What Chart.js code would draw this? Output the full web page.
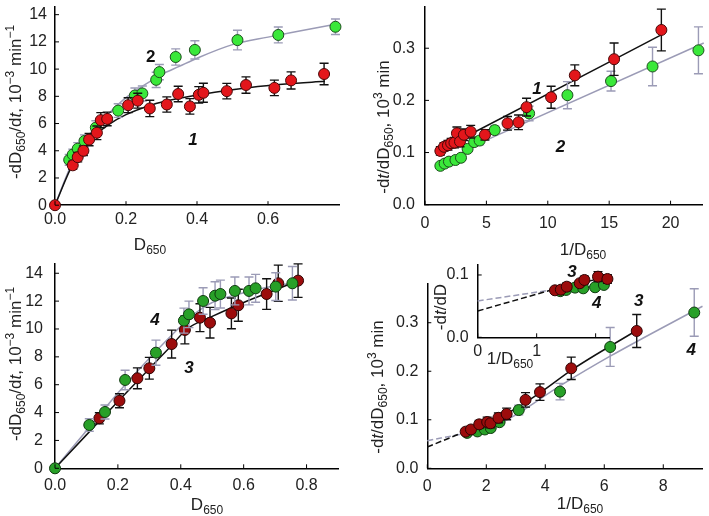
<!DOCTYPE html>
<html>
<head>
<meta charset="utf-8">
<script src="https://cdn.jsdelivr.net/npm/chart.js@4/dist/chart.umd.min.js"></script>
<style>
  body { margin: 0; background: #fff; }
  #wrap { position: relative; width: 709px; height: 516px; font-family: "Liberation Sans", Arial, sans-serif; color: #222; }
  canvas { position: absolute; left: 0; top: 0; }
  .t { position: absolute; font-size: 17px; line-height: 1; white-space: nowrap; transform: translate(-50%, -50%); }
  .r { transform: translate(-50%, -50%) rotate(-90deg); }
  .t sub { font-size: 12px; vertical-align: -4px; }
  .t sup { font-size: 12px; vertical-align: 7px; }
</style>
</head>
<body>
<div id="wrap">
  <canvas id="c1" width="709" height="516"></canvas>
  <canvas id="c2" width="709" height="516"></canvas>
  <canvas id="c3" width="709" height="516"></canvas>
  <canvas id="c4" width="709" height="516"></canvas>
  <canvas id="c5" width="709" height="516"></canvas>

  <div class="t r" style="left:15px;top:102px">-dD<sub>650</sub>/d<i>t</i>, 10<sup>−3</sup> min<sup>−1</sup></div>
  <div class="t" style="left:150px;top:246px">D<sub>650</sub></div>
  <div class="t r" style="left:383px;top:127px">-d<i>t</i>/dD<sub>650</sub>, 10<sup>3</sup> min</div>
  <div class="t" style="left:583px;top:251px">1/D<sub>650</sub></div>
  <div class="t r" style="left:15px;top:364px">-dD<sub>650</sub>/d<i>t</i>, 10<sup>−3</sup> min<sup>−1</sup></div>
  <div class="t" style="left:207px;top:506px">D<sub>650</sub></div>
  <div class="t r" style="left:377px;top:387px">-d<i>t</i>/dD<sub>650</sub>, 10<sup>3</sup> min</div>
  <div class="t" style="left:580px;top:505px">1/D<sub>650</sub></div>
  <div class="t r" style="left:440px;top:307px">-d<i>t</i>/dD</div>
  <div class="t" style="left:510px;top:360px">1/D<sub>650</sub></div>
</div>
<script>
// ---- panel 1: rate vs D650 ----
const p1RedX = [0, 0.050, 0.064, 0.080, 0.096, 0.118, 0.129, 0.147, 0.206, 0.233, 0.267, 0.315, 0.347, 0.380, 0.405, 0.418, 0.484, 0.538, 0.618, 0.665, 0.758];
const p1RedY = [0, 2.93, 3.53, 4.0, 4.82, 5.32, 6.25, 6.34, 7.35, 7.68, 7.11, 7.4, 8.17, 7.26, 8.11, 8.26, 8.38, 8.83, 8.62, 9.17, 9.64];
const p1RedErr = [0, 0.3, 0.35, 0.35, 0.45, 0.5, 0.55, 0.5, 0.55, 0.55, 0.6, 0.56, 0.57, 0.57, 0.6, 0.7, 0.57, 0.6, 0.57, 0.63, 0.79];
const p1GreenX = [0.040, 0.050, 0.064, 0.083, 0.115, 0.178, 0.225, 0.246, 0.285, 0.294, 0.340, 0.394, 0.514, 0.629, 0.790];
const p1GreenY = [3.33, 3.72, 4.15, 4.72, 5.70, 6.95, 8.06, 8.21, 9.21, 9.78, 10.89, 11.41, 12.13, 12.51, 13.11];
const p1GreenErr = [0.4, 0.4, 0.45, 0.45, 0.5, 0.5, 0.55, 0.55, 0.56, 0.56, 0.6, 0.67, 0.72, 0.58, 0.57];
const p1FitRedX = [0, 0.05, 0.1, 0.15, 0.2, 0.27, 0.35, 0.45, 0.55, 0.65, 0.76];
const p1FitRedY = [0, 3.0, 4.8, 5.9, 6.65, 7.35, 7.85, 8.3, 8.65, 8.9, 9.1];
const p1FitGreenX = [0, 0.05, 0.1, 0.15, 0.2, 0.25, 0.3, 0.35, 0.4, 0.5, 0.6, 0.7, 0.79];
const p1FitGreenY = [0, 3.2, 5.3, 6.7, 7.9, 8.8, 9.6, 10.2, 10.8, 11.8, 12.35, 12.85, 13.3];
const p1TicksX = [0, 0.2, 0.4, 0.6], p1LabelsX = ['0.0', '0.2', '0.4', '0.6'];
const p1TicksY = [0, 2, 4, 6, 8, 10, 12, 14], p1LabelsY = ['0', '2', '4', '6', '8', '10', '12', '14'];

// ---- panel 2: double reciprocal ----
const p2RedX = [1.25, 1.55, 1.87, 2.13, 2.4, 2.6, 2.85, 3.17, 3.72, 4.88, 6.72, 7.62, 8.27, 10.27, 12.2, 15.4, 19.25];
const p2RedY = [0.103, 0.111, 0.114, 0.118, 0.119, 0.137, 0.121, 0.134, 0.140, 0.134, 0.156, 0.158, 0.187, 0.206, 0.248, 0.279, 0.335];
const p2RedErr = [0.008, 0.008, 0.009, 0.009, 0.01, 0.012, 0.01, 0.011, 0.012, 0.01, 0.013, 0.014, 0.017, 0.021, 0.02, 0.031, 0.04];
const p2GreenX = [1.25, 1.6, 1.95, 2.48, 2.93, 3.47, 4.0, 4.45, 5.68, 8.48, 11.6, 15.15, 18.53, 22.27];
const p2GreenY = [0.0745, 0.0788, 0.0826, 0.0857, 0.090, 0.107, 0.120, 0.123, 0.143, 0.175, 0.210, 0.237, 0.265, 0.296];
const p2GreenErr = [0.004, 0.004, 0.004, 0.005, 0.005, 0.006, 0.007, 0.008, 0.008, 0.014, 0.026, 0.019, 0.037, 0.045];
const p2FitRedX = [2.8, 19.2], p2FitRedY = [0.124, 0.325];
const p2FitGreenX = [3.3, 22.7], p2FitGreenY = [0.106, 0.31];
const p2TicksX = [0, 5, 10, 15, 20], p2LabelsX = ['0', '5', '10', '15', '20'];
const p2TicksY = [0, 0.1, 0.2, 0.3], p2LabelsY = ['0.0', '0.1', '0.2', '0.3'];

// ---- panel 3: rate vs D650, series 3 and 4 ----
const p3RedX = [0.141, 0.205, 0.262, 0.300, 0.371, 0.413, 0.461, 0.493, 0.561, 0.583, 0.673, 0.710, 0.773];
const p3RedY = [3.59, 4.85, 6.46, 7.18, 8.92, 9.93, 10.81, 10.45, 11.12, 11.7, 12.51, 13.28, 13.47];
const p3RedErr = [0.4, 0.5, 0.75, 0.78, 1.0, 1.0, 1.0, 1.1, 1.1, 1.15, 1.1, 1.3, 1.2];
const p3GreenX = [0, 0.109, 0.159, 0.223, 0.321, 0.410, 0.426, 0.471, 0.509, 0.526, 0.572, 0.617, 0.638, 0.702, 0.755];
const p3GreenY = [0, 3.11, 4.04, 6.34, 8.3, 10.6, 11.05, 12.01, 12.39, 12.51, 12.73, 12.73, 12.92, 13.04, 13.28];
const p3GreenErr = [0, 0.45, 0.5, 0.7, 0.9, 0.9, 0.95, 0.95, 1.0, 1.0, 1.0, 1.0, 1.0, 1.0, 1.2];
const p3FitRedX = [0, 0.1, 0.2, 0.3, 0.37, 0.42, 0.5, 0.6, 0.7, 0.77];
const p3FitRedY = [0, 2.4, 4.8, 7.15, 8.8, 10.0, 10.9, 11.9, 12.8, 13.45];
const p3FitGreenX = [0, 0.1, 0.2, 0.3, 0.4, 0.45, 0.5, 0.6, 0.7, 0.77];
const p3FitGreenY = [0, 2.7, 5.4, 7.9, 10.2, 11.2, 11.9, 12.6, 13.1, 13.35];
const p3TicksX = [0, 0.2, 0.4, 0.6, 0.8], p3LabelsX = ['0.0', '0.2', '0.4', '0.6', '0.8'];
const p3TicksY = [0, 2, 4, 6, 8, 10, 12, 14], p3LabelsY = ['0', '2', '4', '6', '8', '10', '12', '14'];

// ---- panel 4: double reciprocal, series 3 and 4 ----
const p4RedX = [1.30, 1.48, 1.76, 2.03, 2.14, 2.41, 2.69, 3.33, 3.82, 4.88, 7.1];
const p4RedY = [0.0755, 0.080, 0.0906, 0.0954, 0.0927, 0.104, 0.112, 0.141, 0.157, 0.206, 0.283];
const p4RedErr = [0.006, 0.007, 0.008, 0.01, 0.009, 0.01, 0.012, 0.015, 0.017, 0.023, 0.034];
const p4GreenX = [1.35, 1.7, 1.95, 2.15, 2.45, 3.1, 4.5, 6.2, 9.05];
const p4GreenY = [0.073, 0.076, 0.080, 0.083, 0.095, 0.120, 0.158, 0.250, 0.321];
const p4GreenErr = [0.005, 0.005, 0.005, 0.006, 0.006, 0.01, 0.017, 0.040, 0.049];
const p4DashRedX = [0, 1.3], p4DashRedY = [0.044, 0.076];
const p4FitRedX = [1.3, 2.7, 3.85, 4.9, 7.12], p4FitRedY = [0.076, 0.113, 0.157, 0.203, 0.285];
const p4DashGreenX = [0, 1.3], p4DashGreenY = [0.057, 0.072];
const p4FitGreenX = [1.3, 2.6, 4.5, 6.2, 9.33], p4FitGreenY = [0.072, 0.097, 0.17, 0.231, 0.334];
const p4TicksX = [0, 2, 4, 6, 8], p4LabelsX = ['0', '2', '4', '6', '8'];
const p4TicksY = [0, 0.1, 0.2, 0.3], p4LabelsY = ['0.0', '0.1', '0.2', '0.3'];

// ---- inset of panel 4 ----
const inRedX = [1.31, 1.41, 1.51, 1.73, 1.81, 2.04, 2.20];
const inRedY = [0.0754, 0.0764, 0.0812, 0.0867, 0.092, 0.0973, 0.0936];
const inRedErr = [0.004, 0.004, 0.006, 0.004, 0.006, 0.008, 0.007];
const inGreenX = [1.4, 1.5, 1.65, 1.79, 1.99, 2.14];
const inGreenY = [0.074, 0.076, 0.0797, 0.0786, 0.0803, 0.084];
const inGreenErr = [0.003, 0.003, 0.003, 0.003, 0.003, 0.004];
const inDashRedX = [0, 1.25], inDashRedY = [0.0422, 0.076];
const inFitRedX = [1.25, 2.2], inFitRedY = [0.076, 0.097];
const inDashGreenX = [0, 1.25], inDashGreenY = [0.0583, 0.076];
const inFitGreenX = [1.25, 2.22], inFitGreenY = [0.076, 0.083];
const inTicksX = [0, 1, 2], inLabelsX = ['0', '1', ''];
const inTicksY = [0, 0.1], inLabelsY = ['0.0', '0.1'];

const W = 709, H = 516, YW = 40, XH = 30;
const FONT = '"Liberation Sans", Arial, sans-serif';
const RED = '#e3161b', RED_EDGE = '#4a0808';
const DRED = '#9c0c0c', DRED_EDGE = '#2e0303';
const LGREEN = '#3ae83a', LGREEN_EDGE = '#1d4d1d';
const DGREEN = '#28a028', DGREEN_EDGE = '#0f3a0f';
const BLACK = '#111', GRAY = '#9b9bb6';

const pts = (xs, ys) => xs.map((x, i) => ({ x, y: ys[i] }));

function dots(xs, ys, err, fill, edge, errColor) {
  return { data: pts(xs, ys), err, errColor, backgroundColor: fill, borderColor: edge,
    borderWidth: 1, pointRadius: 5.5, clip: false };
}
function curve(xs, ys, color, dash) {
  return { data: pts(xs, ys), showLine: true, pointRadius: 0, borderColor: color,
    borderWidth: 1.5, borderDash: dash || [], cubicInterpolationMode: 'monotone', clip: false };
}

function axis(min, max, ticks, labels, pad, vertical) {
  return {
    type: 'linear', min, max,
    afterBuildTicks: s => { s.ticks = ticks.map(v => ({ value: v })); },
    afterFit: s => {
      if (vertical) { s.width = YW; s.paddingTop = 0; s.paddingBottom = 0; }
      else { s.height = XH; s.paddingLeft = 0; s.paddingRight = 0; }
    },
    grid: { display: false, drawTicks: false },
    border: { display: true, color: '#000', width: 1.5 },
    ticks: { autoSkip: false, maxRotation: 0, padding: pad, color: '#222',
      font: { family: FONT, size: 16 }, callback: (v, i) => labels[i] }
  };
}

// error bars drawn just before each point set, inward tick marks and curve numbers after
function decor(notes) {
  return {
    id: 'decor',
    beforeDatasetDraw(chart, args) {
      const ds = chart.data.datasets[args.index];
      if (!ds.err) return;
      const ctx = chart.ctx, ys = chart.scales.y;
      ctx.save();
      ctx.strokeStyle = ds.errColor;
      ctx.lineWidth = 1.4;
      args.meta.data.forEach((p, i) => {
        const e = ds.err[i];
        if (!e) return;
        const v = ds.data[i].y;
        const t = ys.getPixelForValue(v + e), b = ys.getPixelForValue(v - e);
        ctx.beginPath();
        ctx.moveTo(p.x, t); ctx.lineTo(p.x, b);
        ctx.moveTo(p.x - 4.5, t); ctx.lineTo(p.x + 4.5, t);
        ctx.moveTo(p.x - 4.5, b); ctx.lineTo(p.x + 4.5, b);
        ctx.stroke();
      });
      ctx.restore();
    },
    afterDraw(chart) {
      const ctx = chart.ctx, a = chart.chartArea, xs = chart.scales.x, ys = chart.scales.y;
      ctx.save();
      ctx.strokeStyle = '#000';
      ctx.lineWidth = 1;
      ctx.beginPath();
      xs.ticks.forEach(t => { const p = xs.getPixelForValue(t.value); ctx.moveTo(p, a.bottom); ctx.lineTo(p, a.bottom - 4); });
      ys.ticks.forEach(t => { const p = ys.getPixelForValue(t.value); ctx.moveTo(a.left, p); ctx.lineTo(a.left + 4, p); });
      ctx.stroke();
      ctx.fillStyle = '#111';
      ctx.textAlign = 'center';
      ctx.textBaseline = 'middle';
      notes.forEach(n => {
        ctx.font = (n.upright ? 'bold ' : 'italic bold ') + '17px ' + FONT;
        ctx.fillText(n.text, xs.getPixelForValue(n.x), ys.getPixelForValue(n.y));
      });
      ctx.restore();
    }
  };
}

function panel(id, area, xAx, yAx, datasets, notes) {
  return new Chart(id, {
    type: 'scatter',
    data: { datasets },
    options: {
      responsive: false, animation: false, events: [],
      layout: { padding: { left: area.l - YW, top: area.t, right: W - area.r, bottom: H - area.b - XH } },
      plugins: { legend: { display: false }, tooltip: { enabled: false } },
      scales: { x: xAx, y: yAx }
    },
    plugins: [decor(notes)]
  });
}

panel('c1', { l: 55, t: 1.5, r: 339, b: 205.2 },
  axis(0, 0.8, p1TicksX, p1LabelsX, 5, false),
  axis(0, 14.6, p1TicksY, p1LabelsY, 8, true),
  [
    dots(p1RedX, p1RedY, p1RedErr, RED, RED_EDGE, BLACK),
    dots(p1GreenX, p1GreenY, p1GreenErr, LGREEN, LGREEN_EDGE, GRAY),
    curve(p1FitRedX, p1FitRedY, BLACK),
    curve(p1FitGreenX, p1FitGreenY, GRAY)
  ],
  [{ text: '2', x: 0.27, y: 10.9, upright: true }, { text: '1', x: 0.389, y: 4.76 }]);

panel('c2', { l: 425, t: 2.2, r: 707.5, b: 204.7 },
  axis(0, 22.6, p2TicksX, p2LabelsX, 9, false),
  axis(0, 0.38, p2TicksY, p2LabelsY, 10, true),
  [
    dots(p2RedX, p2RedY, p2RedErr, RED, RED_EDGE, BLACK),
    dots(p2GreenX, p2GreenY, p2GreenErr, LGREEN, LGREEN_EDGE, GRAY),
    curve(p2FitRedX, p2FitRedY, BLACK),
    curve(p2FitGreenX, p2FitGreenY, GRAY)
  ],
  [{ text: '1', x: 9.12, y: 0.221 }, { text: '2', x: 11.04, y: 0.110 }]);

panel('c3', { l: 55, t: 263.5, r: 338, b: 468.3 },
  axis(0, 0.9, p3TicksX, p3LabelsX, 8, false),
  axis(0, 14.7, p3TicksY, p3LabelsY, 12, true),
  [
    dots(p3GreenX, p3GreenY, p3GreenErr, DGREEN, DGREEN_EDGE, GRAY),
    dots(p3RedX, p3RedY, p3RedErr, DRED, DRED_EDGE, BLACK),
    curve(p3FitRedX, p3FitRedY, BLACK),
    curve(p3FitGreenX, p3FitGreenY, GRAY)
  ],
  [{ text: '4', x: 0.318, y: 10.65 }, { text: '3', x: 0.426, y: 7.2 }]);

panel('c4', { l: 427.3, t: 283.9, r: 708.4, b: 468.3 },
  axis(0, 9.33, p4TicksX, p4LabelsX, 9, false),
  axis(0, 0.38, p4TicksY, p4LabelsY, 9, true),
  [
    dots(p4RedX, p4RedY, p4RedErr, DRED, DRED_EDGE, BLACK),
    dots(p4GreenX, p4GreenY, p4GreenErr, DGREEN, DGREEN_EDGE, GRAY),
    curve(p4FitRedX, p4FitRedY, BLACK),
    curve(p4DashRedX, p4DashRedY, BLACK, [6, 3]),
    curve(p4FitGreenX, p4FitGreenY, GRAY),
    curve(p4DashGreenX, p4DashGreenY, GRAY, [6, 3])
  ],
  [{ text: '3', x: 7.17, y: 0.345 }, { text: '4', x: 8.95, y: 0.244 }]);

panel('c5', { l: 477.7, t: 265, r: 609.2, b: 337.3 },
  axis(0, 2.23, inTicksX, inLabelsX, 5, false),
  axis(0, 0.116, inTicksY, inLabelsY, 9, true),
  [
    dots(inRedX, inRedY, inRedErr, DRED, DRED_EDGE, BLACK),
    dots(inGreenX, inGreenY, inGreenErr, DGREEN, DGREEN_EDGE, GRAY),
    curve(inFitRedX, inFitRedY, BLACK),
    curve(inDashRedX, inDashRedY, BLACK, [6, 3]),
    curve(inFitGreenX, inFitGreenY, GRAY),
    curve(inDashGreenX, inDashGreenY, GRAY, [6, 3])
  ],
  [{ text: '3', x: 1.6, y: 0.105 }, { text: '4', x: 2.02, y: 0.055 }]);
</script>
</body>
</html>
